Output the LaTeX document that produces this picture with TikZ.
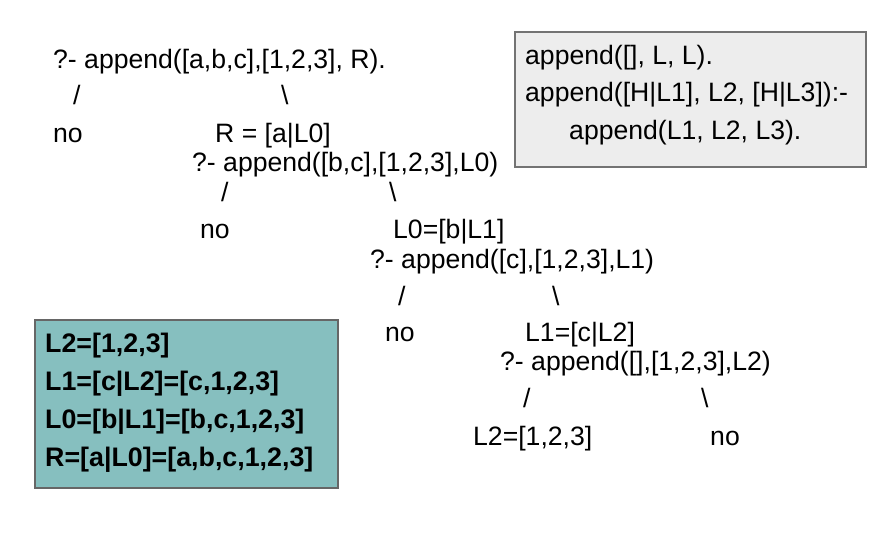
\documentclass[tikz,border=0pt]{standalone}
\usepackage{fontspec}
\setmainfont{Liberation Sans}
\begin{document}
\begin{tikzpicture}[x=1pt,y=-1pt,
  txt/.style={anchor=base west,inner sep=0pt,font=\fontsize{26.6}{30}\selectfont},
  btxt/.style={anchor=base west,inner sep=0pt,font=\fontsize{26.8}{30}\selectfont\bfseries},
  rulebox/.style={draw=black!55,line width=1.6pt,fill=black!7},
  resbox/.style={draw=black!60,line width=1.6pt,fill={rgb,255:red,134;green,191;blue,191}}]
\useasboundingbox (0,0) rectangle (890,535);
% program box
\draw[rulebox] (515,32) rectangle (866,167);
\node[txt] (p1) at (525,64) {append([], L, L).};
\node[txt] (p2) at (525,101) {append([H|L1], L2, [H|L3]):-};
\node[txt] (p3) at (569,139) {append(L1, L2, L3).};
% result box
\draw[resbox] (35,320) rectangle (338,488);
\node[btxt] (r1) at (45,352) {L2=[1,2,3]};
\node[btxt] (r2) at (45,390) {L1=[c|L2]=[c,1,2,3]};
\node[btxt] (r3) at (45,428) {L0=[b|L1]=[b,c,1,2,3]};
\node[btxt] (r4) at (45,466) {R=[a|L0]=[a,b,c,1,2,3]};
% tree
\node[txt] (q0) at (53,68) {?- append([a,b,c],[1,2,3], R).};
\node[txt] (s0l) at (73,104) {/};
\node[txt] (s0r) at (281,104) {\textbackslash};
\node[txt] (n0) at (53,142) {no};
\node[txt] (u0) at (215,142) {R = [a|L0]};
\node[txt] (q1) at (192,171) {?- append([b,c],[1,2,3],L0)};
\node[txt] (s1l) at (221,201) {/};
\node[txt] (s1r) at (389,201) {\textbackslash};
\node[txt] (n1) at (200,238) {no};
\node[txt] (u1) at (393,238) {L0=[b|L1]};
\node[txt] (q2) at (370,268) {?- append([c],[1,2,3],L1)};
\node[txt] (s2l) at (398,305) {/};
\node[txt] (s2r) at (552,305) {\textbackslash};
\node[txt] (n2) at (385,341) {no};
\node[txt] (u2) at (525,341) {L1=[c|L2]};
\node[txt] (q3) at (500,370) {?- append([],[1,2,3],L2)};
\node[txt] (s3l) at (523,407) {/};
\node[txt] (s3r) at (701,407) {\textbackslash};
\node[txt] (u3) at (473,445) {L2=[1,2,3]};
\node[txt] (n3) at (710,445) {no};
\end{tikzpicture}
\end{document}
